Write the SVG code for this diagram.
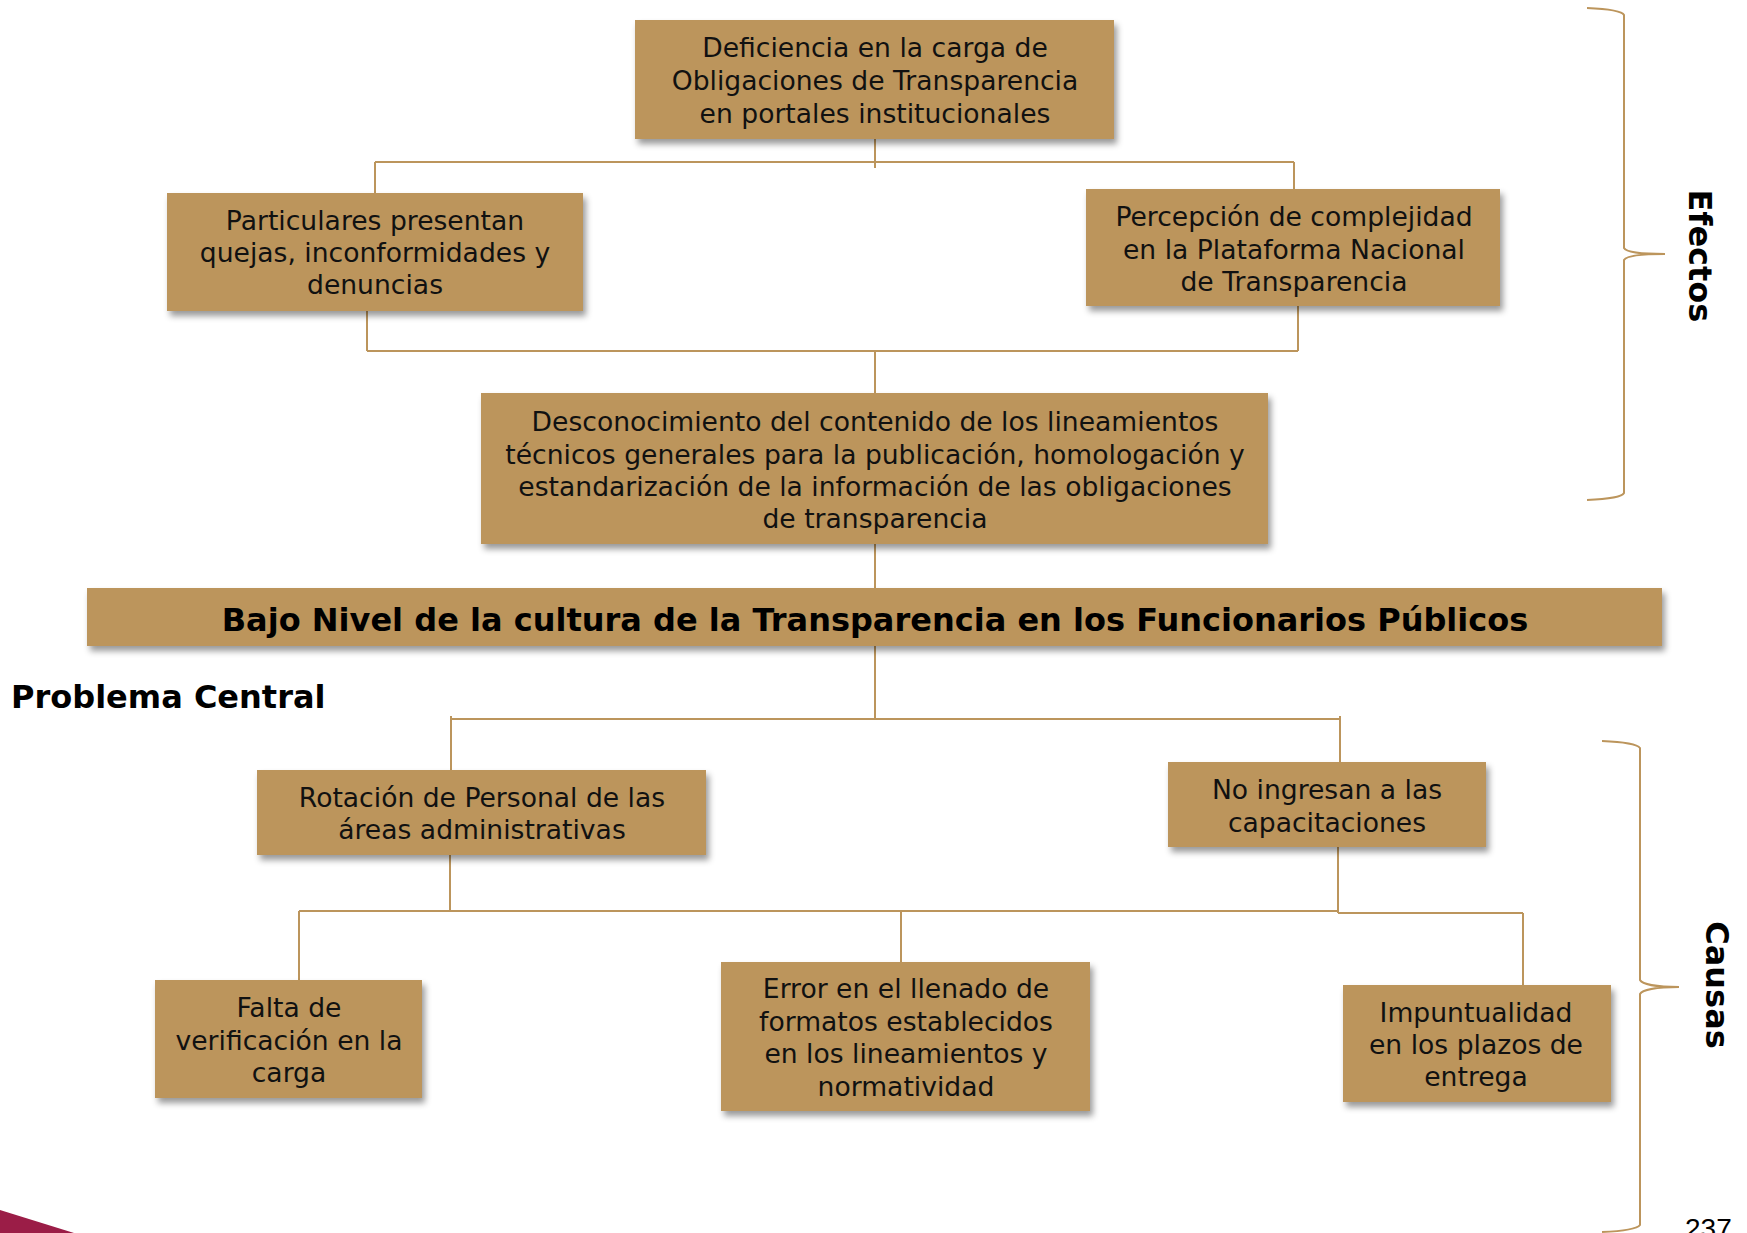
<svg xmlns="http://www.w3.org/2000/svg" width="1747" height="1233" viewBox="0 0 1747 1233">
<defs>
<style>
.box{fill:#BC955C;filter:url(#sh);}
.t{font-family:"DejaVu Sans","Verdana",sans-serif;font-size:26.6px;fill:#111;text-anchor:middle;}
.b{font-family:"DejaVu Sans",sans-serif;font-weight:bold;font-size:32px;fill:#000;}
.ln{stroke:#BC955C;stroke-width:2;fill:none;}
</style>
<filter id="sh" x="-10%" y="-20%" width="125%" height="150%">
<feDropShadow dx="3" dy="5" stdDeviation="3" flood-color="#000" flood-opacity="0.4"/>
</filter>
</defs>
<rect width="1747" height="1233" fill="#fff"/>
<g id="connectors" class="ln">
<path d="M875 139V168M375 162H1294M375 162V193M1294 162V189"/>
<path d="M367 311V351M1298 306V351M367 351H1298M875 351V393"/>
<path d="M875 544V588M875 646V718"/>
<path d="M451 719H1340M451 716V770M1340 716V762"/>
<path d="M450 855V911M1338 847V913M299 911H1338M1338 913H1523"/>
<path d="M299 911V980M901 911V962M1523 913V985"/>
<path d="M1587 8C1610 9 1622 11 1624 15V248C1626 252 1640 254 1665 254C1640 254 1626 256 1624 260V493C1622 497 1610 499 1587 500"/>
<path d="M1602 741C1625 742 1637 744 1640 748V980C1642 984 1656 987 1679 987C1656 987 1642 990 1640 994V1225C1637 1229 1625 1231 1602 1232"/>
</g>
<g id="n1"><rect class="box" x="635" y="20" width="479" height="119"/>
<text class="t" x="875"><tspan x="875" y="57">Deficiencia en la carga de</tspan><tspan x="875" y="90">Obligaciones de Transparencia</tspan><tspan x="875" y="123">en portales institucionales</tspan></text></g>
<g id="n2"><rect class="box" x="167" y="193" width="416" height="118"/>
<text class="t"><tspan x="375" y="230">Particulares presentan</tspan><tspan x="375" y="262">quejas, inconformidades y</tspan><tspan x="375" y="294">denuncias</tspan></text></g>
<g id="n3"><rect class="box" x="1086" y="189" width="414" height="117"/>
<text class="t"><tspan x="1294" y="226">Percepción de complejidad</tspan><tspan x="1294" y="259">en la Plataforma Nacional</tspan><tspan x="1294" y="291">de Transparencia</tspan></text></g>
<g id="n4"><rect class="box" x="481" y="393" width="787" height="151"/>
<text class="t"><tspan x="875" y="431">Desconocimiento del contenido de los lineamientos</tspan><tspan x="875" y="464">técnicos generales para la publicación, homologación y</tspan><tspan x="875" y="496">estandarización de la información de las obligaciones</tspan><tspan x="875" y="528">de transparencia</tspan></text></g>
<g id="central"><rect class="box" x="87" y="588" width="1575" height="58"/>
<text class="b" x="875" y="631" text-anchor="middle">Bajo Nivel de la cultura de la Transparencia en los Funcionarios Públicos</text></g>
<text class="b" x="11" y="708">Problema Central</text>
<g id="n5"><rect class="box" x="257" y="770" width="449" height="85"/>
<text class="t"><tspan x="482" y="807">Rotación de Personal de las</tspan><tspan x="482" y="839">áreas administrativas</tspan></text></g>
<g id="n6"><rect class="box" x="1168" y="762" width="318" height="85"/>
<text class="t"><tspan x="1327" y="799">No ingresan a las</tspan><tspan x="1327" y="832">capacitaciones</tspan></text></g>
<g id="n7"><rect class="box" x="155" y="980" width="267" height="118"/>
<text class="t"><tspan x="289" y="1017">Falta de</tspan><tspan x="289" y="1050">verificación en la</tspan><tspan x="289" y="1082">carga</tspan></text></g>
<g id="n8"><rect class="box" x="721" y="962" width="369" height="149"/>
<text class="t"><tspan x="906" y="998">Error en el llenado de</tspan><tspan x="906" y="1031">formatos establecidos</tspan><tspan x="906" y="1063">en los lineamientos y</tspan><tspan x="906" y="1096">normatividad</tspan></text></g>
<g id="n9"><rect class="box" x="1343" y="985" width="268" height="117"/>
<text class="t"><tspan x="1476" y="1022">Impuntualidad</tspan><tspan x="1476" y="1054">en los plazos de</tspan><tspan x="1476" y="1086">entrega</tspan></text></g>
<text class="b" transform="translate(1689,256) rotate(90)" text-anchor="middle">Efectos</text>
<text class="b" transform="translate(1706,985) rotate(90)" text-anchor="middle">Causas</text>
<text x="1685" y="1238" font-family="Liberation Sans, Arial, sans-serif" font-size="28" fill="#000">237</text>
<polygon points="0,1210 74,1233 0,1233" fill="#9b1d47"/>
</svg>
